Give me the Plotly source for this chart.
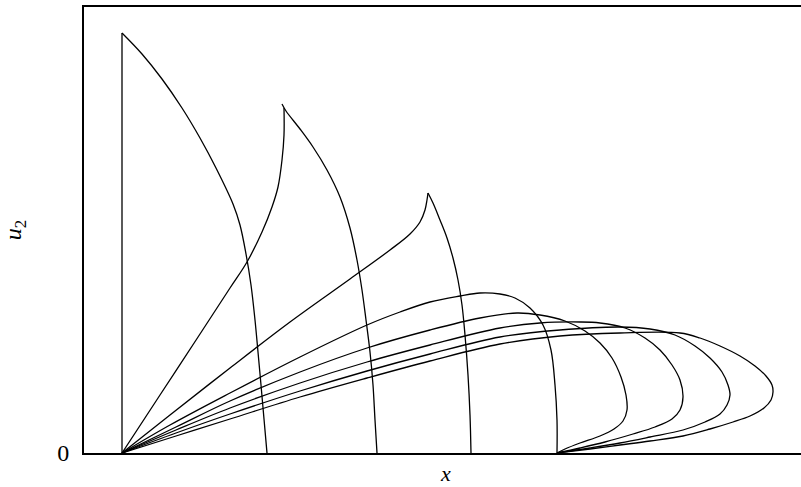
import plotly.graph_objects as go

# Profiles u2(x) at successive times; every profile starts at x = 0.
# Profile 1: vertical front plus falling branch
p1_rise_x = [0.0, 0.0]
p1_rise_y = [0.0, 4.20]
p1_fall_x = [0.0, 0.20, 0.40, 0.60, 0.78, 0.94, 1.11, 1.18, 1.24, 1.29, 1.33, 1.36, 1.39, 1.42, 1.45]
p1_fall_y = [4.20, 3.99, 3.74, 3.45, 3.15, 2.85, 2.49, 2.28, 1.99, 1.68, 1.33, 1.01, 0.68, 0.34, 0.0]

# Profile 2
p2_rise_x = [0.0, 0.38, 0.78, 1.08, 1.25, 1.40, 1.50, 1.56, 1.60, 1.62, 1.62]
p2_rise_y = [0.0, 0.58, 1.19, 1.65, 1.91, 2.21, 2.46, 2.66, 2.93, 3.18, 3.45]
p2_fall_x = [1.60, 1.64, 1.78, 1.91, 2.05, 2.18, 2.28, 2.35, 2.40, 2.44, 2.48, 2.51, 2.53, 2.55]
p2_fall_y = [3.49, 3.42, 3.24, 3.06, 2.83, 2.56, 2.25, 1.93, 1.63, 1.33, 1.01, 0.68, 0.33, 0.0]

# Profile 3
p3_rise_x = [0.0, 0.48, 1.08, 1.68, 2.28, 2.68, 2.88, 2.98, 3.03, 3.05, 3.06]
p3_rise_y = [0.0, 0.38, 0.85, 1.31, 1.74, 2.03, 2.19, 2.31, 2.43, 2.53, 2.60]
p3_fall_x = [3.06, 3.11, 3.18, 3.25, 3.31, 3.36, 3.40, 3.43, 3.46, 3.48, 3.49]
p3_fall_y = [2.60, 2.50, 2.33, 2.15, 1.95, 1.73, 1.48, 1.18, 0.78, 0.38, 0.0]

# Profile 4
p4_x = [0.0, 0.48, 1.08, 1.78, 2.45, 2.78, 3.08, 3.38, 3.58, 3.78, 3.93, 4.08, 4.21,
        4.29, 4.33, 4.35, 4.35]
p4_y = [0.0, 0.28, 0.60, 0.96, 1.28, 1.41, 1.51, 1.57, 1.60, 1.59, 1.55, 1.45, 1.28,
        1.03, 0.68, 0.33, 0.0]

# Profiles 5-8: multivalued, folding back to the foot at x = 4.35
p5_x = [0.0, 0.54, 1.08, 1.78, 2.45, 3.08, 3.58, 3.95, 4.18, 4.43, 4.63, 4.78, 4.90,
        4.99, 5.04, 5.05, 5.01, 4.92, 4.78, 4.58, 4.43, 4.35]
p5_y = [0.0, 0.26, 0.52, 0.81, 1.05, 1.23, 1.35, 1.40, 1.38, 1.32, 1.22, 1.10, 0.95,
        0.76, 0.58, 0.43, 0.32, 0.24, 0.17, 0.10, 0.04, 0.0]

p6_x = [0.0, 0.54, 1.08, 1.78, 2.45, 3.08, 3.78, 4.18, 4.58, 4.78, 5.03, 5.23, 5.38,
        5.50, 5.58, 5.61, 5.58, 5.50, 5.33, 5.11, 4.83, 4.58, 4.35]
p6_y = [0.0, 0.23, 0.45, 0.70, 0.91, 1.08, 1.25, 1.30, 1.31, 1.30, 1.25, 1.15, 1.03,
        0.88, 0.73, 0.56, 0.43, 0.34, 0.26, 0.19, 0.11, 0.05, 0.0]

p7_x = [0.0, 0.54, 1.08, 1.78, 2.45, 3.08, 3.78, 4.38, 4.98, 5.28, 5.53, 5.73, 5.88,
        6.00, 6.06, 6.08, 6.05, 5.98, 5.83, 5.61, 5.28, 4.98, 4.68, 4.35]
p7_y = [0.0, 0.20, 0.39, 0.62, 0.82, 0.99, 1.16, 1.23, 1.26, 1.24, 1.18, 1.07, 0.95,
        0.81, 0.68, 0.58, 0.48, 0.39, 0.31, 0.23, 0.16, 0.10, 0.05, 0.0]

p8_x = [0.0, 0.54, 1.08, 1.78, 2.45, 3.08, 3.78, 4.38, 4.98, 5.58, 5.78, 5.98, 6.18,
        6.33, 6.44, 6.50, 6.51, 6.49, 6.42, 6.28, 6.11, 5.88, 5.61, 5.28, 4.98, 4.68, 4.35]
p8_y = [0.0, 0.17, 0.34, 0.56, 0.75, 0.92, 1.09, 1.17, 1.20, 1.20, 1.15, 1.07, 0.97,
        0.87, 0.77, 0.68, 0.61, 0.53, 0.45, 0.37, 0.31, 0.24, 0.17, 0.12, 0.08, 0.04, 0.0]

y_tick_vals = [0]
y_tick_text = ["0"]

branches = [
    (p1_rise_x, p1_rise_y, "linear"),
    (p1_fall_x, p1_fall_y, "spline"),
    (p2_rise_x, p2_rise_y, "spline"),
    (p2_fall_x, p2_fall_y, "spline"),
    (p3_rise_x, p3_rise_y, "spline"),
    (p3_fall_x, p3_fall_y, "spline"),
    (p4_x, p4_y, "spline"),
    (p5_x, p5_y, "spline"),
    (p6_x, p6_y, "spline"),
    (p7_x, p7_y, "spline"),
    (p8_x, p8_y, "spline"),
]

fig = go.Figure()
for bx, by, shape in branches:
    fig.add_trace(go.Scatter(
        x=bx, y=by, mode="lines",
        line=dict(color="black", width=1.3, shape=shape, smoothing=1.0),
        showlegend=False, hoverinfo="skip",
    ))

serif = "Liberation Serif"

fig.update_layout(
    width=801, height=487,
    margin=dict(l=84, r=0, t=7, b=34),
    paper_bgcolor="white", plot_bgcolor="white",
    xaxis=dict(range=[-0.38, 6.79], showgrid=False, zeroline=False,
               showline=True, linecolor="black", linewidth=2, mirror=True,
               showticklabels=False, ticks=""),
    yaxis=dict(range=[0, 4.46], showgrid=False, zeroline=False,
               showline=True, linecolor="black", linewidth=2, mirror=False,
               tickmode="array", tickvals=y_tick_vals, ticktext=y_tick_text,
               ticks="", ticklabelstandoff=8,
               tickfont=dict(family=serif, size=24, color="black")),
    annotations=[
        dict(text="<i>x</i>", xref="paper", yref="paper", x=0.5035, y=-0.046,
             showarrow=False, font=dict(family=serif, size=22, color="black"),
             xanchor="center", yanchor="middle"),
        dict(text="<i>u</i><sub>2</sub>", xref="paper", yref="paper", x=-0.096, y=0.5,
             showarrow=False, textangle=-90,
             font=dict(family=serif, size=24, color="black"),
             xanchor="center", yanchor="middle"),
    ],
)

fig.write_html("out.html")
